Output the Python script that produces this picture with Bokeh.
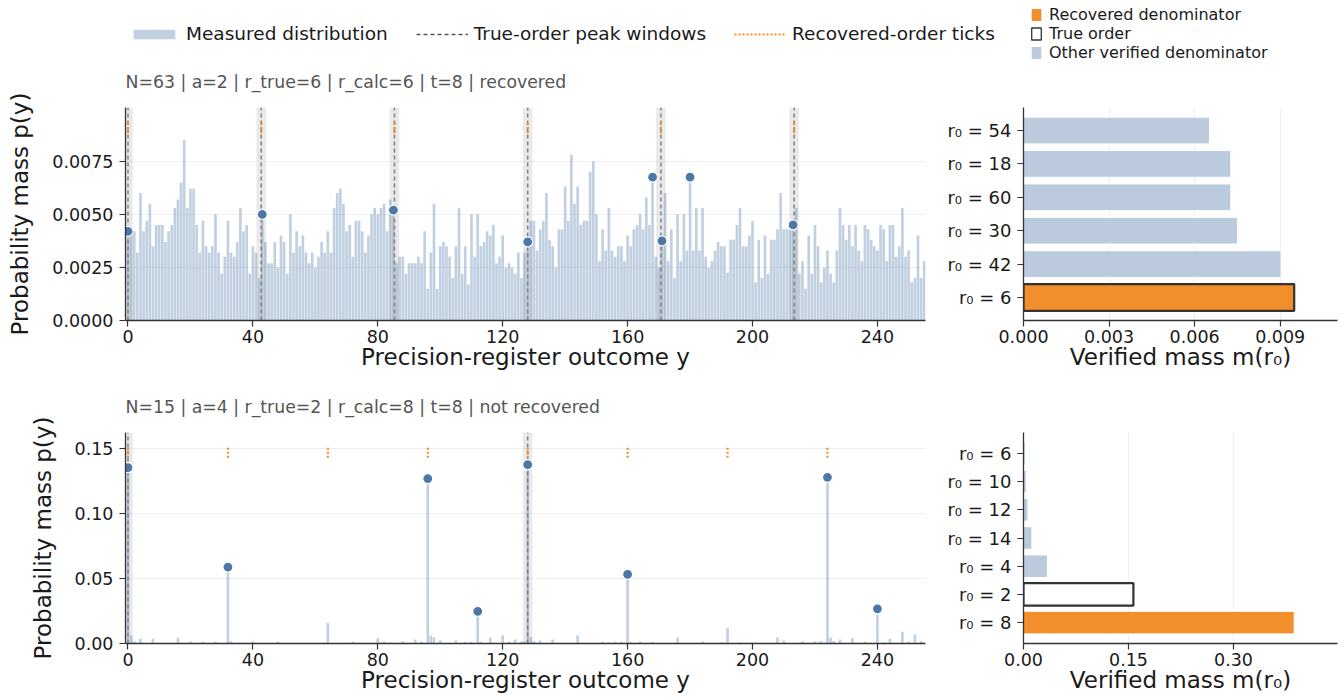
from bokeh.plotting import figure
from bokeh.layouts import column, row
from bokeh.models import (ColumnDataSource, Range1d, FactorRange, FixedTicker,
                          NumeralTickFormatter, Legend, LegendItem, Title)
from bokeh.embed import file_html
from bokeh.resources import INLINE

# ---------------- data ----------------
n_outcomes = 256
outcomes = list(range(n_outcomes))

top_title = "N=63 | a=2 | r_true=6 | r_calc=6 | t=8 | recovered"
top_r_true = 6
top_r_calc = 6
top_prob = [
    0.0042, 0.0044, 0.0042, 0.0032, 0.0060, 0.0042, 0.0047, 0.0055, 0.0035, 0.0045,
    0.0045, 0.0045, 0.0037, 0.0042, 0.0045, 0.0053, 0.0057, 0.0065, 0.0085, 0.0053,
    0.0062, 0.0062, 0.0045, 0.0032, 0.0047, 0.0035, 0.0032, 0.0035, 0.0050, 0.0032,
    0.0022, 0.0030, 0.0047, 0.0032, 0.0030, 0.0037, 0.0053, 0.0042, 0.0045, 0.0022,
    0.0035, 0.0032, 0.0020, 0.0050, 0.0037, 0.0027, 0.0027, 0.0037, 0.0025, 0.0040,
    0.0037, 0.0022, 0.0050, 0.0032, 0.0042, 0.0035, 0.0040, 0.0032, 0.0027, 0.0032,
    0.0025, 0.0030, 0.0037, 0.0032, 0.0042, 0.0032, 0.0053, 0.0060, 0.0062, 0.0055,
    0.0042, 0.0045, 0.0030, 0.0047, 0.0047, 0.0042, 0.0032, 0.0040, 0.0050, 0.0053,
    0.0050, 0.0053, 0.0055, 0.0042, 0.0057, 0.0052, 0.0027, 0.0030, 0.0030, 0.0022,
    0.0027, 0.0027, 0.0027, 0.0030, 0.0027, 0.0042, 0.0015, 0.0032, 0.0055, 0.0015,
    0.0035, 0.0037, 0.0035, 0.0030, 0.0020, 0.0035, 0.0053, 0.0022, 0.0035, 0.0017,
    0.0050, 0.0030, 0.0050, 0.0035, 0.0037, 0.0042, 0.0040, 0.0045, 0.0027, 0.0030,
    0.0040, 0.0025, 0.0027, 0.0025, 0.0022, 0.0032, 0.0020, 0.0032, 0.0037, 0.0047,
    0.0047, 0.0033, 0.0043, 0.0047, 0.0060, 0.0038, 0.0035, 0.0025, 0.0043, 0.0043,
    0.0063, 0.0047, 0.0078, 0.0055, 0.0063, 0.0045, 0.0047, 0.0047, 0.0070, 0.0075,
    0.0050, 0.0028, 0.0043, 0.0033, 0.0053, 0.0033, 0.0030, 0.0035, 0.0035, 0.0028,
    0.0040, 0.0035, 0.0043, 0.0045, 0.0050, 0.0043, 0.0058, 0.0045, 0.00675, 0.0030,
    0.0025, 0.00375, 0.0060, 0.0028, 0.0043, 0.0020, 0.0050, 0.0028, 0.0050, 0.0033,
    0.00675, 0.0033, 0.0053, 0.0033, 0.0053, 0.0030, 0.0025, 0.0028, 0.0033, 0.0037,
    0.0035, 0.0035, 0.00225, 0.0038, 0.0038, 0.0045, 0.0053, 0.0035, 0.0035, 0.0040,
    0.0047, 0.0018, 0.0038, 0.0020, 0.0040, 0.0022, 0.0038, 0.0038, 0.0043, 0.0060,
    0.0043, 0.0043, 0.0043, 0.0045, 0.0053, 0.0022, 0.0028, 0.0015, 0.0040, 0.0022,
    0.0045, 0.0035, 0.0018, 0.0025, 0.0033, 0.0022, 0.0018, 0.0033, 0.0053, 0.0045,
    0.0038, 0.0045, 0.0035, 0.0045, 0.0033, 0.0028, 0.0045, 0.0043, 0.0038, 0.0035,
    0.0033, 0.0045, 0.0043, 0.0028, 0.0045, 0.0045, 0.0030, 0.0035, 0.0053, 0.0030,
    0.0033, 0.0018, 0.0020, 0.0040, 0.0020, 0.0028,
]
top_sampled = [0, 43, 85, 128, 168, 171, 180, 213]

bot_title = "N=15 | a=4 | r_true=2 | r_calc=8 | t=8 | not recovered"
bot_r_true = 2
bot_r_calc = 8
bot_nonzero = {
    0: 0.1353, 1: 0.0062, 2: 0.0018, 4: 0.0036, 8: 0.0036, 16: 0.0044, 20: 0.0015,
    24: 0.0013, 28: 0.0015, 32: 0.0588, 33: 0.0018, 36: 0.0008, 40: 0.0018,
    48: 0.0015, 64: 0.0157, 72: 0.0015, 80: 0.0041, 82: 0.0015, 84: 0.0008,
    88: 0.0018, 92: 0.0030, 94: 0.0015, 96: 0.1269, 97: 0.0062, 98: 0.0046,
    100: 0.0023, 105: 0.0023, 108: 0.0013, 110: 0.0013, 112: 0.0247, 113: 0.0013,
    116: 0.0046, 120: 0.0064, 122: 0.0015, 124: 0.0030, 126: 0.0015, 127: 0.0015,
    128: 0.1376, 129: 0.0050, 130: 0.0018, 132: 0.0023, 136: 0.0030, 144: 0.0064,
    152: 0.0015, 154: 0.0010, 156: 0.0013, 158: 0.0013, 160: 0.0532, 161: 0.0010,
    164: 0.0015, 168: 0.0013, 176: 0.0046, 184: 0.0015, 190: 0.0010, 192: 0.0118,
    196: 0.0010, 200: 0.0010, 208: 0.0046, 210: 0.0023, 216: 0.0018, 220: 0.0018,
    222: 0.0020, 224: 0.1279, 225: 0.0044, 226: 0.0020, 228: 0.0030, 232: 0.0041,
    236: 0.0013, 240: 0.0267, 242: 0.0010, 244: 0.0036, 248: 0.0090, 250: 0.0015,
    252: 0.0069, 254: 0.0018,
}
bot_prob = [bot_nonzero.get(i, 0.0) for i in outcomes]
bot_sampled = [0, 32, 96, 112, 128, 160, 224, 240]

# verified-mass panels, listed top to bottom as drawn
top_r0 = [54, 18, 60, 30, 42, 6]
top_mass = [0.00652, 0.00727, 0.00727, 0.0075, 0.00903, 0.00949]
bot_r0 = [6, 10, 12, 14, 4, 2, 8]
bot_mass = [0.0024, 0.0039, 0.0063, 0.012, 0.0343, 0.157, 0.3867]

x_ticks = [0, 40, 80, 120, 160, 200, 240]
top_yticks = [0, 0.0025, 0.005, 0.0075]
bot_yticks = [0, 0.05, 0.10, 0.15]
top_mticks = [0, 0.003, 0.006, 0.009]
bot_mticks = [0, 0.15, 0.30]

legend_main = ["Measured distribution", "True-order peak windows", "Recovered-order ticks"]
legend_side = ["Recovered denominator", "True order", "Other verified denominator"]

# ---------------- style ----------------
FONT = "DejaVu Sans"
BAR = "#4C78A8"
LIGHT = "#BBCBDD"
ORANGE = "#F28E2B"
DARK = "#333333"
TXT = "#1a1a1a"
WIN = "#808080"
NAN = float("nan")

LEFT_W, RIGHT_W = 940, 400


def style_axes(p, tick_size="17.5px", label_size="23px"):
    for ax in list(p.xaxis) + list(p.yaxis):
        ax.axis_line_color = DARK
        ax.axis_line_width = 1.3
        ax.major_tick_line_color = DARK
        ax.major_tick_line_width = 1.2
        ax.major_tick_out = 6
        ax.major_tick_in = 0
        ax.minor_tick_line_color = None
        ax.major_label_text_font = FONT
        ax.major_label_text_font_size = tick_size
        ax.major_label_text_color = TXT
        ax.major_label_standoff = 3
        ax.axis_label_text_font = FONT
        ax.axis_label_text_font_size = label_size
        ax.axis_label_text_font_style = "normal"
        ax.axis_label_text_color = TXT
        ax.axis_label_standoff = -2
    for ax in p.yaxis:
        ax.major_label_standoff = 6
    p.outline_line_color = None
    p.background_fill_color = "white"
    p.border_fill_color = "white"


def dist_fig(vals, r_true, r_calc, sampled, yticks, yfmt, title, height, btop, bbot):
    n = len(vals)
    ymax = max(vals) * 1.18
    p = figure(width=LEFT_W, height=height, x_range=Range1d(-0.8, 255.4),
               y_range=Range1d(0, ymax), output_backend="svg", toolbar_location=None,
               min_border_left=125, min_border_right=15, min_border_top=btop,
               min_border_bottom=bbot)
    p.title.text = title
    p.title.text_font = FONT
    p.title.text_font_size = "17.3px"
    p.title.text_font_style = "normal"
    p.title.text_color = "#555555"
    p.title.align = "left"
    p.title.standoff = 10
    # thin spacer panel between the subtitle and the frame
    p.add_layout(Title(text=" ", text_font_size="8px", standoff=0), "above")

    centers = [k * n / r_true for k in range(r_true)]
    ccalc = [k * n / r_calc for k in range(r_calc)]
    p.quad(left=[c - 1.5 for c in centers], right=[c + 1.5 for c in centers],
           bottom=0, top=ymax, fill_color="#b5b5b5", fill_alpha=0.3, line_color=None)
    p.vbar(x=outcomes, top=vals, width=0.85, fill_color=BAR, fill_alpha=0.35,
           line_color=None)
    p.segment(x0=centers, x1=centers, y0=0, y1=ymax, line_color=WIN,
              line_width=1.5, line_dash="4 3")
    p.segment(x0=ccalc, x1=ccalc, y0=0.88 * ymax, y1=0.93 * ymax, line_color=ORANGE,
              line_width=2.2, line_dash="2 2")
    p.scatter(x=sampled, y=[vals[s] for s in sampled], size=10, fill_color=BAR,
              line_color="white", line_width=1.2)

    p.xaxis.ticker = FixedTicker(ticks=x_ticks)
    p.yaxis.ticker = FixedTicker(ticks=yticks)
    p.yaxis.formatter = NumeralTickFormatter(format=yfmt)
    p.xaxis.axis_label = "Precision-register outcome y"
    p.yaxis.axis_label = "Probability mass p(y)"
    p.xgrid.visible = False
    p.ygrid.grid_line_color = "#eeeeee"
    p.ygrid.grid_line_width = 1
    style_axes(p)
    p.yaxis.axis_label_standoff = 16
    return p


def mass_fig(r0s, masses, r_true, r_calc, ticks, fmt, height, btop, bbot):
    labels = [f"r\u2080 = {r}" for r in r0s]
    order = labels[::-1]  # bottom to top
    n = len(labels)
    pad = 0.19 if n == 6 else 0.24
    xmax = max(masses) * 1.16
    p = figure(width=RIGHT_W, height=height, x_range=Range1d(0, xmax),
               y_range=FactorRange(factors=order, range_padding=pad,
                                   range_padding_units="absolute"),
               output_backend="svg", toolbar_location=None,
               min_border_left=83, min_border_right=3, min_border_top=btop,
               min_border_bottom=bbot)
    fills = [ORANGE if r == r_calc else ("white" if r == r_true else LIGHT) for r in r0s]
    lines = [DARK if r == r_true else "white" for r in r0s]
    widths = [2.2 if r == r_true else 1.0 for r in r0s]
    src = ColumnDataSource(dict(y=labels, m=masses, f=fills, l=lines, w=widths))
    p.hbar(y="y", right="m", left=0, height=0.8, source=src, fill_color="f",
           line_color="l", line_width="w")
    p.xaxis.ticker = FixedTicker(ticks=ticks)
    p.xaxis.formatter = NumeralTickFormatter(format=fmt)
    p.xaxis.axis_label = "Verified mass m(r\u2080)"
    p.ygrid.visible = False
    p.xgrid.grid_line_color = "#eeeeee"
    p.xgrid.grid_line_width = 1
    style_axes(p)
    p.yaxis.major_label_text_font_size = "18px"
    return p


# ---------------- header legends ----------------
HEADER_H = 62
header = figure(width=LEFT_W + RIGHT_W, height=HEADER_H, x_range=Range1d(0, 1),
                y_range=Range1d(0, 1), output_backend="svg", toolbar_location=None,
                min_border=0)
header.axis.visible = False
header.grid.visible = False
header.outline_line_color = None


def proxy_quad(**kw):
    return header.quad(left=[NAN], right=[NAN], bottom=[NAN], top=[NAN], **kw)


def proxy_line(**kw):
    return header.line(x=[NAN], y=[NAN], **kw)


r_meas = proxy_quad(fill_color=BAR, fill_alpha=0.35, line_color=None)
r_win = proxy_line(line_color="#555555", line_width=1.5, line_dash="4 3")
r_tick = proxy_line(line_color=ORANGE, line_width=2.0, line_dash="2 2")
leg1 = Legend(items=[LegendItem(label=legend_main[0], renderers=[r_meas]),
                     LegendItem(label=legend_main[1], renderers=[r_win]),
                     LegendItem(label=legend_main[2], renderers=[r_tick])],
              orientation="horizontal", location=(128, 18), glyph_width=52,
              glyph_height=12, label_standoff=6, spacing=28, padding=0, margin=0,
              border_line_color=None, background_fill_alpha=0,
              label_text_font=FONT, label_text_font_size="18.5px", label_text_color=TXT)
header.add_layout(leg1)

r_rec = proxy_quad(fill_color=ORANGE, line_color=None)
r_true_g = proxy_quad(fill_color="white", line_color=DARK, line_width=1.3)
r_oth = proxy_quad(fill_color=LIGHT, line_color=None)
leg2 = Legend(items=[LegendItem(label=legend_side[0], renderers=[r_rec]),
                     LegendItem(label=legend_side[1], renderers=[r_true_g]),
                     LegendItem(label=legend_side[2], renderers=[r_oth])],
              orientation="vertical", location=(1030, 0), glyph_width=12,
              glyph_height=15, label_standoff=7, spacing=0, padding=0, margin=0,
              label_height=18, border_line_color=None, background_fill_alpha=0,
              label_text_font=FONT, label_text_font_size="16px", label_text_color=TXT)
header.add_layout(leg2)

# ---------------- panels ----------------
p_tl = dist_fig(top_prob, top_r_true, top_r_calc, top_sampled, top_yticks, "0.0000",
                top_title, 316, 45, 58)
p_tr = mass_fig(top_r0, top_mass, top_r_true, top_r_calc, top_mticks, "0.000", 316, 45, 58)
p_bl = dist_fig(bot_prob, bot_r_true, bot_r_calc, bot_sampled, bot_yticks, "0.00",
                bot_title, 318, 54, 53)
p_br = mass_fig(bot_r0, bot_mass, bot_r_true, bot_r_calc, bot_mticks, "0.00", 318, 54, 53)

layout = column(header, row(p_tl, p_tr), row(p_bl, p_br))

open("out.html", "w").write(file_html(layout, INLINE))
